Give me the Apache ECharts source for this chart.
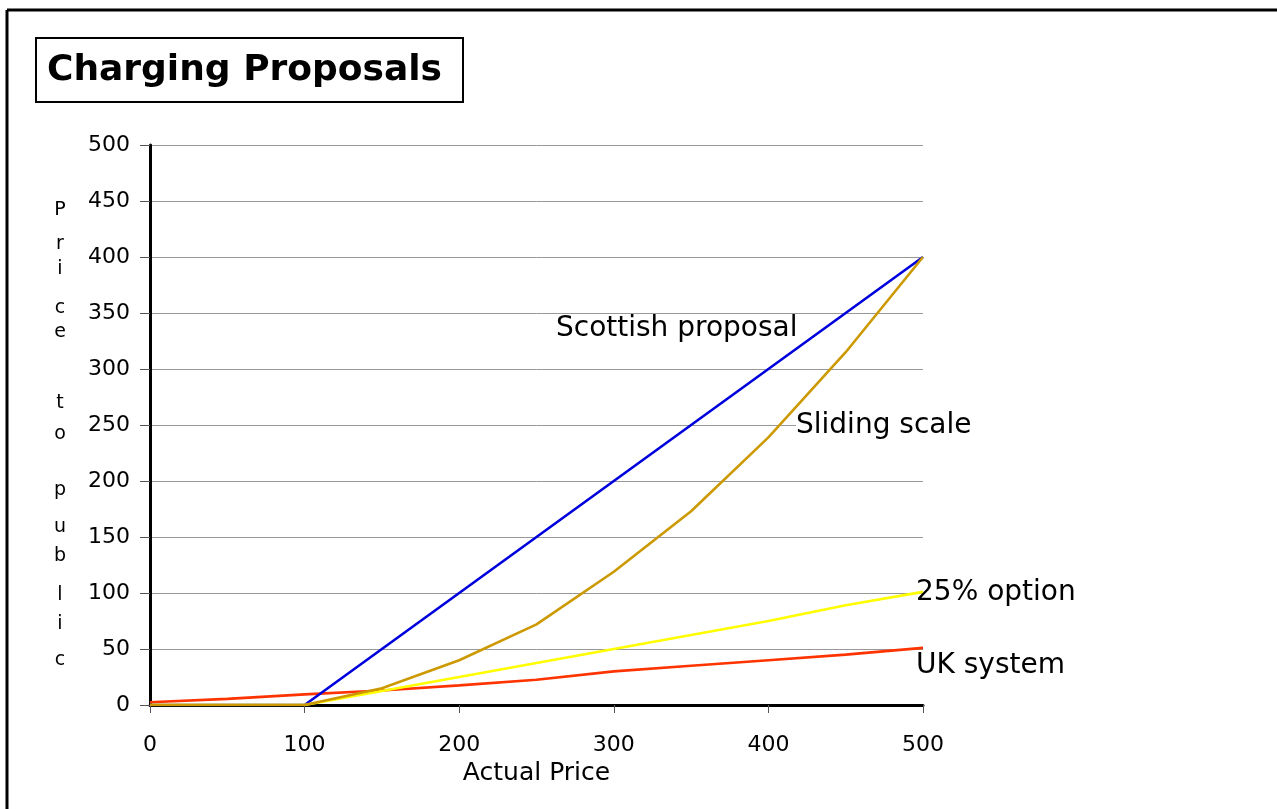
<!DOCTYPE html>
<html>
<head>
<meta charset="utf-8">
<title>Charging Proposals</title>
<script src="https://cdn.jsdelivr.net/npm/echarts@6/dist/echarts.min.js"></script>
<style>
    html, body { margin: 0; padding: 0; background: #fff; }
    #main { width: 1277px; height: 809px; }
</style>
</head>
<body>
<div id="main"></div>
<script>
// 数据
let actualPrice = [0, 50, 100, 150, 200, 250, 300, 350, 400, 450, 500];
let scottish = [0, 0, 0, 50, 100, 150, 200, 250, 300, 350, 400];
let sliding = [0, 0, 0, 15, 40, 72, 119, 173, 239, 315, 400];
let option25 = [0, 0, 0, 12.5, 25, 37.5, 50, 62.5, 75, 89, 101];
let ukSystem = [2.5, 5.5, 9.5, 13, 17.5, 22.5, 30, 35, 40, 45, 51];
let yTicks = [0, 50, 100, 150, 200, 250, 300, 350, 400, 450, 500];
let yLetters = ['P', 'r', 'i', 'c', 'e', 't', 'o', 'p', 'u', 'b', 'l', 'i', 'c'];
let letterY = [210, 244, 269, 308, 332, 403, 434, 490, 527, 556, 595, 624, 660];

let font = 'DejaVu Sans';

function pairs(ys) {
    return actualPrice.map(function (x, i) { return [x, ys[i]]; });
}

function line(name, color, ys) {
    return {
        name: name,
        type: 'line',
        data: pairs(ys),
        symbol: 'none',
        animation: false,
        lineStyle: { color: color, width: 2.6 }
    };
}

let myChart = echarts.init(document.getElementById('main'));

// 竖排的 y 轴名称
let letters = yLetters.map(function (ch, i) {
    return {
        type: 'text',
        x: 60, y: letterY[i],
        style: {
            text: ch, font: '19px "' + font + '"', fill: '#000',
            align: 'center', verticalAlign: 'middle'
        }
    };
});

function note(text, x, y, bg) {
    return {
        type: 'text', x: x, y: y, z: 10,
        style: {
            text: text, font: '28px "' + font + '"', fill: '#000',
            align: 'left', verticalAlign: 'middle',
            backgroundColor: bg || 'transparent'
        }
    };
}

let option = {
    backgroundColor: '#fff',
    grid: { left: 150, right: 354, top: 145, bottom: 104 },
    xAxis: {
        type: 'value',
        min: 0, max: 500, interval: 100,
        name: 'Actual Price',
        nameLocation: 'middle',
        nameGap: 56,
        nameTextStyle: { fontFamily: font, fontSize: 25, color: '#000' },
        axisLine: { lineStyle: { color: '#000', width: 3 } },
        axisTick: { length: 8, lineStyle: { color: '#555', width: 1 } },
        axisLabel: { margin: 29, fontFamily: font, fontSize: 22, color: '#000' },
        splitLine: { show: false }
    },
    yAxis: {
        type: 'value',
        min: 0, max: 500, interval: 50,
        axisLine: { show: true, lineStyle: { color: '#000', width: 3 } },
        axisTick: { show: true, length: 10, lineStyle: { color: '#555', width: 1 } },
        axisLabel: {
            margin: 20, fontFamily: font, fontSize: 22, color: '#000',
            formatter: function (v) { return yTicks.indexOf(v) >= 0 ? String(v) : ''; }
        },
        splitLine: { show: true, lineStyle: { color: '#999', width: 1 } }
    },
    series: [
        line('UK system', '#ff3300', ukSystem),
        line('Scottish proposal', '#0000dd', scottish),
        line('25% option', '#ffff00', option25),
        line('Sliding scale', '#cc9900', sliding)
    ],
    graphic: [
        // 外框
        { type: 'line', shape: { x1: 7, y1: 10, x2: 1277, y2: 10 }, style: { stroke: '#000', lineWidth: 3 } },
        { type: 'line', shape: { x1: 7, y1: 10, x2: 7, y2: 809 }, style: { stroke: '#000', lineWidth: 3 } },
        // 标题框
        { type: 'rect', shape: { x: 36, y: 38, width: 427, height: 64 }, style: { fill: '#fff', stroke: '#000', lineWidth: 2 } },
        {
            type: 'text', x: 47, y: 71,
            style: {
                text: 'Charging Proposals', font: 'bold 36px "' + font + '"', fill: '#000',
                align: 'left', verticalAlign: 'middle'
            }
        },
        note('Scottish proposal', 556, 329),
        note('Sliding scale', 796, 426, '#fff'),
        note('25% option', 916, 593),
        note('UK system', 916, 666)
    ].concat(letters)
};
myChart.setOption(option);
</script>
</body>
</html>
